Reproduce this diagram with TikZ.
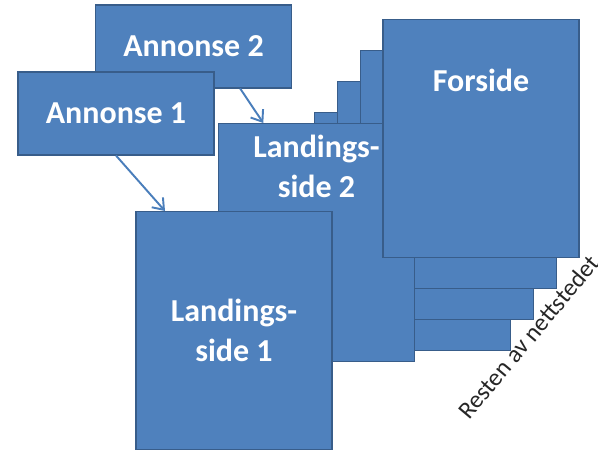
\documentclass[tikz,border=0pt]{standalone}
\usepackage{fontspec}
\setmainfont{Carlito}
\usetikzlibrary{arrows.meta,positioning}
\definecolor{pageblue}{HTML}{4F81BD}
\definecolor{pageedge}{HTML}{385D8A}
\definecolor{linkblue}{HTML}{4A7EBB}
\newcommand{\bigbold}{\fontsize{18.2}{22.4}\selectfont\bfseries}
\tikzset{
  page/.style={rectangle, draw=pageedge, line width=0.6pt, fill=pageblue, inner sep=0pt,
               minimum width=3.92cm, minimum height=4.76cm},
  annonse/.style={rectangle, draw=pageedge, line width=0.6pt, fill=pageblue, inner sep=0pt,
                  minimum width=3.92cm, minimum height=1.66cm, text=white, font=\bigbold},
  pagetext/.style={align=center, text=white, inner sep=0pt, font=\bigbold},
  arr/.style={-{Straight Barb[length=2mm, width=3mm]}, line width=1.1pt, draw=linkblue},
}

\begin{document}
\begin{tikzpicture}[x=0.02cm, y=-0.02cm]
    \useasboundingbox (0,0) rectangle (598,451);
    \foreach \i in {3,2,1}
      \node[page] (rest\i) at ({481-22.8*\i},{138.5+31*\i}) {};
    \node[page] (land2) at (316.5,242.5) {};
    \node[pagetext, below=0.24cm of land2.north] (land2txt) {Landings-\\side 2};
    \node[page] (forside) at (481,138.5) {};
    \node[pagetext, below=1.0cm of forside.north] (forsidetxt) {Forside};
    \node[page, pagetext] (land1) at (234,330.5) {Landings-\\side 1};
    \node[annonse] (ann2) at (193.5,46.5) {Annonse 2};
    \node[annonse] (ann1) at (116,113.5) {Annonse 1};
    \node[font=\fontsize{14}{17}\selectfont, text=black!85, rotate=50, anchor=base west, inner sep=0pt]
      (resten) at (469,421) {Resten av nettstedet};
    \draw[arr] (ann1.south) -- (land1.120);
    \draw[arr] (ann2.-42) -- (land2.114);
  \end{tikzpicture}
\end{document}
